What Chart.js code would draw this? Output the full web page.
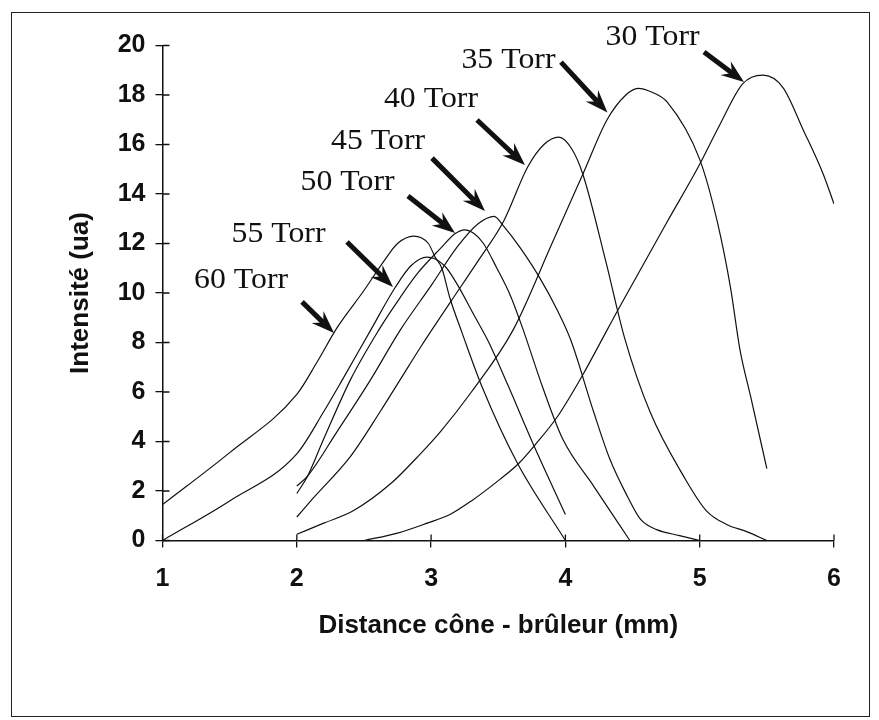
<!DOCTYPE html>
<html>
<head>
<meta charset="utf-8">
<title>Intensité - distance cône - brûleur</title>
<script src="https://cdn.jsdelivr.net/npm/chart.js@4.4.1/dist/chart.umd.min.js"></script>
<style>
    html, body { margin: 0; padding: 0; background: #fff; }
    #wrap { position: relative; width: 879px; height: 720px; }
    #frame { position: absolute; left: 11px; top: 12px; width: 857px; height: 703px; border: 1px solid #222; pointer-events: none; }
</style>
</head>
<body>
<div id="wrap">
    <canvas id="pressureChart" width="879" height="720"></canvas>
    <div id="frame"></div>
</div>
<script>
// Data (distance in mm, intensity in a.u.)
const x30 = [2.5, 2.75, 2.97, 3.14, 3.3, 3.51, 3.65, 3.78, 3.94, 4.13, 4.31, 4.39, 4.76, 4.99, 5.15, 5.32, 5.47, 5.62, 5.77, 5.92, 6.0];
const y30 = [0, 0.3, 0.7, 1.05, 1.6, 2.46, 3.1, 3.9, 5.0, 6.7, 8.5, 9.3, 12.9, 15.1, 16.8, 18.45, 18.8, 18.3, 16.6, 14.8, 13.6];

const x35 = [2, 2.2, 2.42, 2.7, 2.92, 3.07, 3.3, 3.61, 3.9, 4.13, 4.31, 4.45, 4.54, 4.65, 4.76, 5.0, 5.13, 5.23, 5.3, 5.38, 5.5];
const y35 = [0.25, 0.7, 1.2, 2.3, 3.5, 4.4, 6.0, 8.5, 12.0, 14.8, 17.0, 18.0, 18.27, 18.1, 17.7, 15.4, 12.9, 10.2, 7.7, 5.8, 2.9];

const x40 = [2, 2.12, 2.4, 2.62, 2.77, 2.92, 3.14, 3.35, 3.54, 3.72, 3.84, 3.95, 4.05, 4.13, 4.3, 4.44, 4.63, 4.88, 5.05, 5.2, 5.35, 5.5];
const y40 = [0.95, 1.7, 3.4, 5.2, 6.5, 7.8, 9.6, 11.3, 12.9, 15.1, 16.0, 16.3, 15.8, 14.8, 11.3, 8.2, 5.2, 2.6, 1.2, 0.65, 0.36, 0];

const x45 = [2, 2.08, 2.3, 2.55, 2.77, 3.0, 3.2, 3.35, 3.47, 3.54, 3.66, 3.81, 3.94, 4.04, 4.21, 4.33, 4.46, 4.56, 4.68, 4.85, 5.0];
const y45 = [2.2, 2.6, 4.4, 6.5, 8.5, 10.3, 11.9, 12.8, 13.1, 12.7, 11.85, 10.6, 9.3, 8.1, 5.2, 3.3, 1.8, 0.85, 0.44, 0.2, 0];

const x50 = [2, 2.08, 2.2, 2.4, 2.61, 2.73, 2.9, 3.07, 3.18, 3.25, 3.32, 3.39, 3.49, 3.59, 3.68, 3.83, 3.98, 4.21, 4.48];
const y50 = [1.9, 2.6, 4.1, 6.5, 8.5, 9.5, 10.8, 11.8, 12.4, 12.55, 12.4, 12.0, 11.0, 9.9, 8.6, 6.2, 4.1, 2.2, 0];

const x55 = [1, 1.5, 2, 2.2, 2.34, 2.55, 2.73, 2.85, 2.97, 3.1, 3.2, 3.31, 3.43, 3.57, 3.76, 4.0];
const y55 = [0, 1.6, 3.5, 5.2, 6.5, 8.5, 10.2, 11.1, 11.45, 11.1, 10.3, 9.2, 8.0, 6.3, 3.9, 1.05];

const x60 = [1, 1.5, 2, 2.15, 2.3, 2.5, 2.65, 2.75, 2.87, 2.98, 3.03, 3.08, 3.14, 3.23, 3.38, 3.64, 4.0];
const y60 = [1.45, 3.55, 5.9, 7.2, 8.6, 10.1, 11.3, 12.0, 12.3, 12.0, 11.45, 11.0, 9.8, 8.4, 6.2, 3.15, 0];

const torrLabels = ['30 Torr', '35 Torr', '40 Torr', '45 Torr', '50 Torr', '55 Torr', '60 Torr'];
const xTicks = [1, 2, 3, 4, 5, 6];
const yTicks = [0, 2, 4, 6, 8, 10, 12, 14, 16, 18, 20];

// Annotation placement (data units): label centre, arrow tail, arrow tip
const labelAt   = [[4.649, 20.34], [3.576, 19.39], [2.999, 17.84], [2.605, 16.14], [2.378, 14.48], [1.864, 12.38], [1.585, 10.53]];
const arrowFrom = [[5.032, 19.74], [3.967, 19.33], [3.342, 16.99], [3.007, 15.45], [2.828, 13.92], [2.374, 12.06], [2.039, 9.64]];
const arrowTo   = [[5.330, 18.53], [4.313, 17.29], [3.699, 15.17], [3.401, 13.31], [3.178, 12.42], [2.716, 10.24], [2.277, 8.38]];

const seriesX = [x30, x35, x40, x45, x50, x55, x60];
const seriesY = [y30, y35, y40, y45, y50, y55, y60];

const INK = '#111';
const sansBold = { family: '"Liberation Sans", Arial, sans-serif', weight: 'bold' };

function toPoints(xs, ys) {
    return xs.map((x, i) => ({ x: x, y: ys[i] }));
}

// Draw one thick arrow with a notched head
function drawArrow(ctx, x0, y0, x1, y1) {
    const ang = Math.atan2(y1 - y0, x1 - x0);
    const c = Math.cos(ang), s = Math.sin(ang);
    const headLen = 23, headHalf = 8.5, notch = 15;

    ctx.lineWidth = 5;
    ctx.beginPath();
    ctx.moveTo(x0, y0);
    ctx.lineTo(x1 - c * notch, y1 - s * notch);
    ctx.stroke();

    ctx.beginPath();
    ctx.moveTo(x1, y1);
    ctx.lineTo(x1 - c * headLen + s * headHalf, y1 - s * headLen - c * headHalf);
    ctx.lineTo(x1 - c * notch, y1 - s * notch);
    ctx.lineTo(x1 - c * headLen - s * headHalf, y1 - s * headLen + c * headHalf);
    ctx.closePath();
    ctx.fill();
}

// Labels "xx Torr" with arrows pointing at each curve
const torrAnnotations = {
    id: 'torrAnnotations',
    afterDatasetsDraw(chart) {
        const { ctx, scales: { x, y } } = chart;
        ctx.save();
        ctx.fillStyle = INK;
        ctx.strokeStyle = INK;
        torrLabels.forEach((text, i) => {
            drawArrow(ctx,
                x.getPixelForValue(arrowFrom[i][0]), y.getPixelForValue(arrowFrom[i][1]),
                x.getPixelForValue(arrowTo[i][0]), y.getPixelForValue(arrowTo[i][1]));

            const cx = x.getPixelForValue(labelAt[i][0]);
            const cy = y.getPixelForValue(labelAt[i][1]);
            ctx.save();
            ctx.translate(cx, cy);
            ctx.scale(1.06, 1);
            ctx.font = '30px "Liberation Serif", "Times New Roman", serif';
            ctx.textAlign = 'center';
            ctx.textBaseline = 'middle';
            ctx.fillText(text, 0, 0);
            ctx.restore();
        });
        ctx.restore();
    }
};

// Tick marks also cross into the plot area
const innerTicks = {
    id: 'innerTicks',
    afterDraw(chart) {
        const { ctx, chartArea, scales: { x, y } } = chart;
        ctx.save();
        ctx.strokeStyle = INK;
        ctx.lineWidth = 1.3;
        ctx.beginPath();
        x.ticks.forEach(t => {
            const px = x.getPixelForValue(t.value);
            ctx.moveTo(px, chartArea.bottom);
            ctx.lineTo(px, chartArea.bottom - 6);
        });
        y.ticks.forEach(t => {
            const py = y.getPixelForValue(t.value);
            ctx.moveTo(chartArea.left, py);
            ctx.lineTo(chartArea.left + 7, py);
        });
        ctx.stroke();
        ctx.restore();
    }
};

const datasets = torrLabels.map((label, i) => ({
    label: label,
    data: toPoints(seriesX[i], seriesY[i]),
    borderColor: INK,
    borderWidth: 1.2,
    pointRadius: 0,
    fill: false,
    cubicInterpolationMode: 'monotone'
}));

new Chart(document.getElementById('pressureChart'), {
    type: 'line',
    data: { datasets: datasets },
    options: {
        responsive: false,
        animation: false,
        devicePixelRatio: 1,
        layout: { padding: { left: 65, top: 45.5, right: 45, bottom: 78.4 } },
        plugins: {
            legend: { display: false },
            tooltip: { enabled: false }
        },
        scales: {
            x: {
                type: 'linear',
                min: xTicks[0],
                max: xTicks[xTicks.length - 1],
                afterBuildTicks: scale => { scale.ticks = xTicks.map(v => ({ value: v })); },
                afterFit: scale => { scale.height = 101.1; },
                ticks: { color: INK, padding: 17, font: { ...sansBold, size: 25 } },
                grid: { drawOnChartArea: false, drawTicks: true, tickLength: 7, color: INK, lineWidth: 1.3 },
                border: { display: true, color: INK, width: 1.5 },
                title: {
                    display: true,
                    text: 'Distance cône - brûleur (mm)',
                    color: INK,
                    padding: 0,
                    font: { ...sansBold, size: 26 }
                }
            },
            y: {
                min: yTicks[0],
                max: yTicks[yTicks.length - 1],
                afterBuildTicks: scale => { scale.ticks = yTicks.map(v => ({ value: v })); },
                afterFit: scale => { scale.width = 162.5 - 65; },
                ticks: { color: INK, padding: 10, font: { ...sansBold, size: 25 } },
                grid: { drawOnChartArea: false, drawTicks: true, tickLength: 7, color: INK, lineWidth: 1.3 },
                border: { display: true, color: INK, width: 1.5 },
                title: {
                    display: true,
                    text: 'Intensité (ua)',
                    color: INK,
                    padding: 0,
                    font: { ...sansBold, size: 26 }
                }
            }
        }
    },
    plugins: [torrAnnotations, innerTicks]
});
</script>
</body>
</html>
